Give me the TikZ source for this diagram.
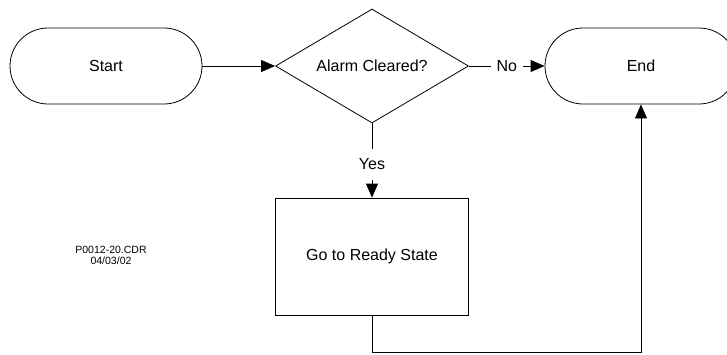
\documentclass[tikz,border=0pt]{standalone}
\usepackage{fontspec}
\setmainfont{Liberation Sans}
\usetikzlibrary{shapes.geometric,arrows.meta}

\tikzset{
  term/.style={draw, rounded corners=38pt, minimum width=192pt, minimum height=76pt},
  decide/.style={draw, diamond, aspect=1.7, minimum width=193pt, minimum height=114pt, inner sep=0pt},
  proc/.style={draw, minimum width=193pt, minimum height=117pt},
  flow/.style={-{Triangle[length=14pt,width=12pt]}},
  lbl/.style={fill=white, inner sep=6pt}
}

\begin{document}
\begin{tikzpicture}[x=1pt,y=-1pt,line width=0.8pt,font=\fontsize{16}{19}\selectfont]
  \clip (0,0) rectangle (727,354);
  % boxes of the chart
  \node[term] (start) at (106,66) {Start};
  \node[decide] (alarm) at (372,66) {Alarm Cleared?};
  \node[term] (end) at (641,66) {End};
  \node[proc] (ready) at (372,256.5) {Go to Ready State};
  % drawing number
  \node[font=\fontsize{10.5}{11}\selectfont, align=center] (file) at (111,255) {P0012-20.CDR\\04/03/02};

  \draw[flow] (start) -- (alarm);
  \draw[flow] (alarm) -- node[lbl]{No} (end);
  \draw[flow] (alarm) -- node[lbl, inner ysep=10pt, pos=0.55]{Yes} (ready);
  \draw[flow] (ready.south) -- ++(0,37) -| (end.south);
\end{tikzpicture}
\end{document}
